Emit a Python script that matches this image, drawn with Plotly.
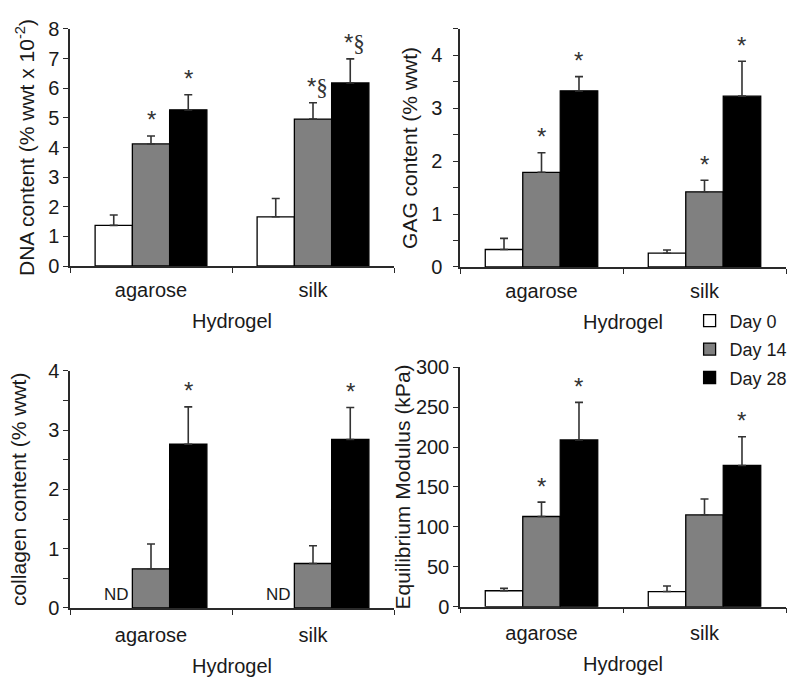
import plotly.graph_objects as go

# ---------------- data ----------------
categories = ["agarose", "silk"]
day_names = ["Day 0", "Day 14", "Day 28"]
day_colors = ["#ffffff", "#808080", "#000000"]

dna_day0 = [1.37, 1.66]
dna_day0_err = [0.35, 0.62]
dna_day14 = [4.12, 4.96]
dna_day14_err = [0.27, 0.55]
dna_day28 = [5.27, 6.18]
dna_day28_err = [0.51, 0.81]
dna_sig = [["", ""], ["*", "*§"], ["*", "*§"]]

gag_day0 = [0.33, 0.26]
gag_day0_err = [0.21, 0.06]
gag_day14 = [1.79, 1.42]
gag_day14_err = [0.37, 0.22]
gag_day28 = [3.33, 3.23]
gag_day28_err = [0.27, 0.66]
gag_sig = [["", ""], ["*", "*"], ["*", "*"]]

collagen_day0 = [None, None]
collagen_day0_err = [0, 0]
collagen_day14 = [0.66, 0.75]
collagen_day14_err = [0.42, 0.30]
collagen_day28 = [2.76, 2.84]
collagen_day28_err = [0.63, 0.54]
collagen_sig = [["", ""], ["", ""], ["*", "*"]]
collagen_nd = ["ND", "ND"]

modulus_day0 = [20, 19]
modulus_day0_err = [3, 7]
modulus_day14 = [113, 115]
modulus_day14_err = [18, 20]
modulus_day28 = [209, 177]
modulus_day28_err = [47, 36]
modulus_sig = [["", ""], ["*", ""], ["*", "*"]]

# ---------------- layout constants ----------------
W, H = 800, 687
BARGAP = 0.31
FONT = "Liberation Sans, Arial, sans-serif"
TXT = "#1a1a1a"
AX = "#2a2a2a"

panels = [
    dict(vals=[dna_day0, dna_day14, dna_day28],
         errs=[dna_day0_err, dna_day14_err, dna_day28_err],
         sig=dna_sig, nd=None,
         ytitle="DNA content (% wwt x 10<sup>-2</sup>)",
         yrange=[0, 8], dtick=1, minor=None,
         ylabstand=0, ystand=8, xlabstand=5, xstand=14,
         xdom=[0.0875, 0.4925], ydom=[0.6128, 0.9578]),
    dict(vals=[gag_day0, gag_day14, gag_day28],
         errs=[gag_day0_err, gag_day14_err, gag_day28_err],
         sig=gag_sig, nd=None,
         ytitle="GAG content (% wwt)",
         yrange=[0, 4.5], dtick=1, minor=0.5,
         ylabstand=7, ystand=8, xlabstand=5, xstand=14,
         xdom=[0.575, 0.9825], ydom=[0.6114, 0.9578]),
    dict(vals=[collagen_day0, collagen_day14, collagen_day28],
         errs=[collagen_day0_err, collagen_day14_err, collagen_day28_err],
         sig=collagen_sig, nd=collagen_nd,
         ytitle="collagen content (% wwt)",
         yrange=[0, 4], dtick=1, minor=0.5,
         ylabstand=0, ystand=16, xlabstand=8, xstand=14,
         xdom=[0.0875, 0.4925], ydom=[0.115, 0.4604]),
    dict(vals=[modulus_day0, modulus_day14, modulus_day28],
         errs=[modulus_day0_err, modulus_day14_err, modulus_day28_err],
         sig=modulus_sig, nd=None,
         ytitle="Equilibrium Modulus (kPa)",
         yrange=[0, 300], dtick=50, minor=None,
         ylabstand=0, ystand=0, xlabstand=8, xstand=14,
         xdom=[0.575, 0.9825], ydom=[0.1169, 0.4654]),
]

fig = go.Figure()
annotations = []
layout_axes = {}

for i, p in enumerate(panels):
    n = "" if i == 0 else str(i + 1)
    xref, yref = "x" + n, "y" + n
    for d in range(3):
        fig.add_trace(go.Bar(
            x=categories, y=p["vals"][d],
            name=day_names[d], legendgroup=day_names[d],
            showlegend=(i == 0),
            marker=dict(color=day_colors[d], line=dict(color="#000000", width=1.3)),
            error_y=dict(type="data", symmetric=False, array=p["errs"][d],
                         arrayminus=[0] * len(categories),
                         color="#333333", thickness=1.6, width=4),
            xaxis=xref, yaxis=yref,
        ))
    # bar geometry in px (derived from layout)
    axis_px = (p["xdom"][1] - p["xdom"][0]) * W
    bw = axis_px / len(categories) * (1 - BARGAP) / 3
    for d in range(3):
        for c, cat in enumerate(categories):
            raw = p["sig"][d][c]
            if raw:
                lab = raw.replace("§", "<span style='font-family:Liberation Serif;font-size:23px'>§</span>")
                annotations.append(dict(
                    x=cat, y=p["vals"][d][c] + p["errs"][d][c], xref=xref, yref=yref,
                    text=lab, showarrow=False,
                    xshift=(d - 1) * bw + (4 if "§" in raw else 0),
                    yanchor="middle", yshift=16,
                    font=dict(size=24, color="#333333", family=FONT)))
    if p["nd"]:
        for c, cat in enumerate(categories):
            annotations.append(dict(
                x=cat, y=0, xref=xref, yref=yref, text=p["nd"][c], showarrow=False,
                xanchor="right", yanchor="bottom", xshift=-bw / 2 - 1, yshift=2,
                font=dict(size=17, color=TXT, family=FONT)))

    xa = dict(domain=p["xdom"], anchor=yref, type="category",
              showline=True, linecolor=AX, linewidth=1.5, mirror=False,
              ticks="outside", tickson="boundaries", ticklen=5, tickcolor=AX,
              showgrid=False, zeroline=False,
              tickfont=dict(size=20, color=TXT, family=FONT),
              ticklabelstandoff=p["xlabstand"],
              title=dict(text="Hydrogel", font=dict(size=20, color=TXT, family=FONT),
                         standoff=p["xstand"]))
    ya = dict(domain=p["ydom"], anchor=xref, range=p["yrange"], dtick=p["dtick"],
              showline=True, linecolor=AX, linewidth=1.5,
              ticks="outside", ticklen=5, tickcolor=AX,
              showgrid=False, zeroline=False,
              ticklabelstandoff=p["ylabstand"],
              tickfont=dict(size=20, color=TXT, family=FONT),
              title=dict(text=p["ytitle"], font=dict(size=21, color=TXT, family=FONT),
                         standoff=p["ystand"]))
    if p["minor"]:
        ya["minor"] = dict(dtick=p["minor"], ticks="outside", ticklen=5, tickcolor=AX)
    layout_axes["xaxis" + n] = xa
    layout_axes["yaxis" + n] = ya

fig.update_layout(
    width=W, height=H,
    margin=dict(l=0, r=0, t=0, b=0, autoexpand=False),
    paper_bgcolor="white", plot_bgcolor="white",
    barmode="group", bargap=BARGAP, bargroupgap=0,
    font=dict(family=FONT, color=TXT),
    showlegend=True,
    legend=dict(x=0.862, y=0.5597, xanchor="left", yanchor="top",
                font=dict(size=18, color=TXT, family=FONT),
                traceorder="grouped", tracegroupgap=2,
                bgcolor="rgba(0,0,0,0)", itemwidth=30),
    annotations=annotations,
    **layout_axes,
)

fig.write_html("out.html", config={"displayModeBar": False},
               post_script="document.body.style.margin='0';document.body.style.padding='0';")
